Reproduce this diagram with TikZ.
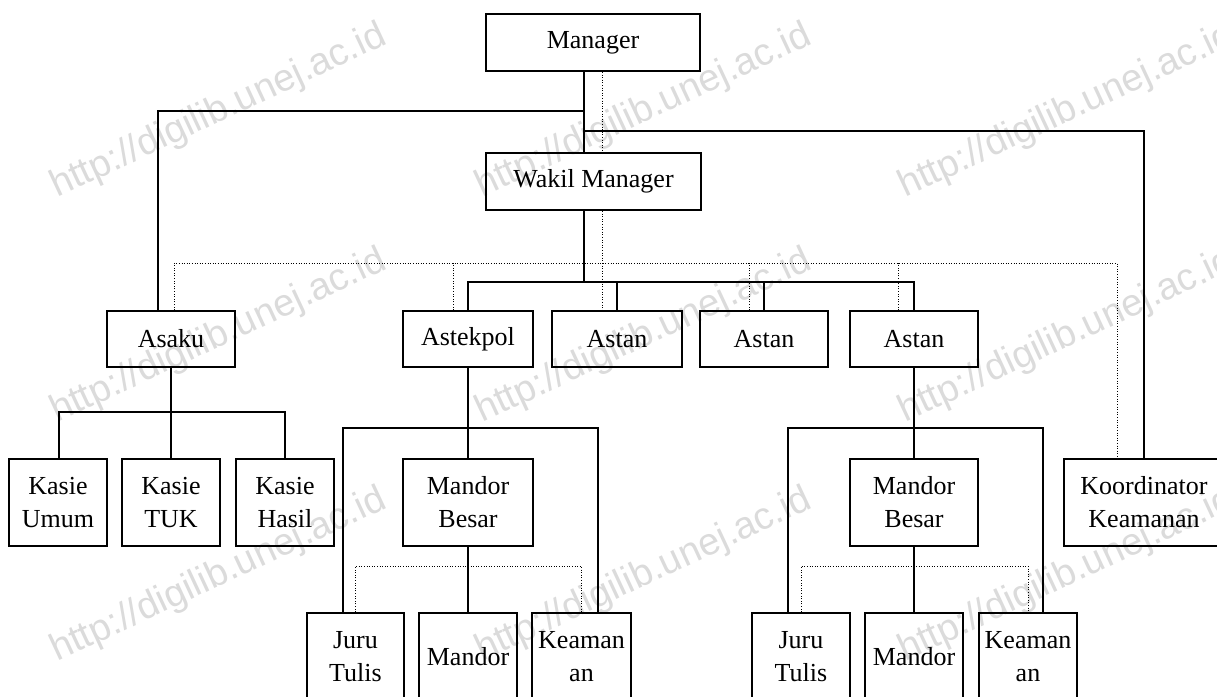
\documentclass[tikz,border=0pt]{standalone}
\usepackage{fontspec}
\setmainfont{Liberation Serif}
\newfontfamily\wmfont{Liberation Sans}
\usetikzlibrary{calc}
\begin{document}
\begin{tikzpicture}[x=1pt,y=-1pt,
  box/.style={draw, line width=1.8pt, inner sep=0pt, align=center,
    font=\fontsize{26}{33}\selectfont},
  wh/.style 2 args={minimum width=#1pt, minimum height=#2pt},
  link/.style={line width=1.8pt},
  dots/.style={line width=1pt, dash pattern=on 1pt off 1.6pt},
  wm/.style={text=black!14, font=\wmfont\fontsize{38}{38}\selectfont,
    rotate=25, anchor=base west, inner sep=0pt}]
\path[use as bounding box] (0,0) rectangle (1217,696);
\clip (0,0) rectangle (1217,696);
\fill[white] (0,0) rectangle (1217,696);

% repository stamp behind the chart
\foreach \wx in {57,482,905}
  \foreach \wy in {198,423,662}
    \node[wm] (wm-\wx-\wy) at (\wx,\wy) {http://digilib.unej.ac.id};

% top management
\node[box, wh={214}{57}] (mgr)   at (593,42.5)    {Manager};
\node[box, wh={215}{57}] (wakil) at (593.5,181.5) {Wakil Manager};

% assistants
\node[box, wh={128}{56}] (asaku)    at (171,339) {Asaku};
\node[box, wh={130}{56}] (astekpol) at (468,339) {Astekpol};
\node[box, wh={130}{56}] (astan1)   at (617,339) {Astan};
\node[box, wh={128}{56}] (astan2)   at (764,339) {Astan};
\node[box, wh={128}{56}] (astan3)   at (914,339) {Astan};

% third level
\node[box, wh={98}{87}]  (kumum)  at (58,502.5)   {Kasie\\Umum};
\node[box, wh={98}{87}]  (ktuk)   at (171,502.5)  {Kasie\\TUK};
\node[box, wh={98}{87}]  (khasil) at (285,502.5)  {Kasie\\Hasil};
\node[box, wh={130}{87}] (mb1)    at (468,502.5)  {Mandor\\Besar};
\node[box, wh={128}{87}] (mb2)    at (914,502.5)  {Mandor\\Besar};
\node[box, wh={160}{87}] (koord)  at (1144,502.5) {Koordinator\\Keamanan};

% field staff
\node[box, wh={97}{87}] (jt1) at (355.5,656.5) {Juru\\Tulis};
\node[box, wh={98}{87}] (md1) at (468,656.5)   {Mandor};
\node[box, wh={99}{87}] (ke1) at (581.5,656.5) {Keaman\\an};
\node[box, wh={98}{87}] (jt2) at (801,656.5)   {Juru\\Tulis};
\node[box, wh={98}{87}] (md2) at (914,656.5)   {Mandor};
\node[box, wh={98}{87}] (ke2) at (1028,656.5)  {Keaman\\an};

% line positions
\coordinate (sp)    at (584,0);
\coordinate (dsp)   at (602,0);
\coordinate (busA)  at (0,111);
\coordinate (busK)  at (0,131);
\coordinate (busD)  at (0,263);
\coordinate (busS)  at (0,282);
\coordinate (busK2) at (0,412);
\coordinate (busL)  at (0,428);
\coordinate (busM)  at (0,566);

% command lines
\draw[link] (mgr.south -| sp) -- (wakil.north -| sp);
\draw[link] (busA -| sp) -| ($(asaku.north)+(-13,0)$);
\draw[link] (busK -| sp) -| (koord.north);
\draw[link] (wakil.south -| sp) -- (busS -| sp);
\draw[link] (astekpol.north) |- (busS -| astan3.north) -- (astan3.north);
\draw[link] (astan1.north) -- (astan1.north |- busS);
\draw[link] (astan2.north) -- (astan2.north |- busS);

\draw[link] (asaku.south) -- (asaku.south |- busK2);
\draw[link] ($(kumum.north)+(1,0)$) |- (busK2 -| khasil.north) -- (khasil.north);
\draw[link] (ktuk.north) -- (ktuk.north |- busK2);

\draw[link] (astekpol.south) -- (mb1.north);
\draw[link] (mb1.south) -- (md1.north);
\coordinate (l1) at ($(jt1.north)+(-12.5,0)$);
\coordinate (r1) at ($(ke1.north)+(16.5,0)$);
\draw[link] (l1) |- (busL -| r1) -- (r1);

\draw[link] (astan3.south) -- (mb2.north);
\draw[link] (mb2.south) -- (md2.north);
\coordinate (l2) at ($(jt2.north)+(-13,0)$);
\coordinate (r2) at ($(ke2.north)+(15,0)$);
\draw[link] (l2) |- (busL -| r2) -- (r2);

% coordination lines
\draw[dots] (mgr.south -| dsp) -- (wakil.north -| dsp);
\draw[dots] (wakil.south -| dsp) -- (astan1.north -| dsp);
\coordinate (dA) at ($(asaku.north)+(3,0)$);
\coordinate (dK) at ($(koord.north)+(-27,0)$);
\draw[dots] (dA) |- (busD -| dK) -- (dK);
\coordinate (dT)  at ($(astekpol.north)+(-15,0)$);
\coordinate (dN2) at ($(astan2.north)+(-15,0)$);
\coordinate (dN3) at ($(astan3.north)+(-16,0)$);
\draw[dots] (dT) -- (dT |- busD);
\draw[dots] (dN2) -- (dN2 |- busD);
\draw[dots] (dN3) -- (dN3 |- busD);

\draw[dots] (jt1.north) |- (busM -| ke1.north) -- (ke1.north);
\draw[dots] (jt2.north) |- (busM -| ke2.north) -- (ke2.north);
\end{tikzpicture}
\end{document}
